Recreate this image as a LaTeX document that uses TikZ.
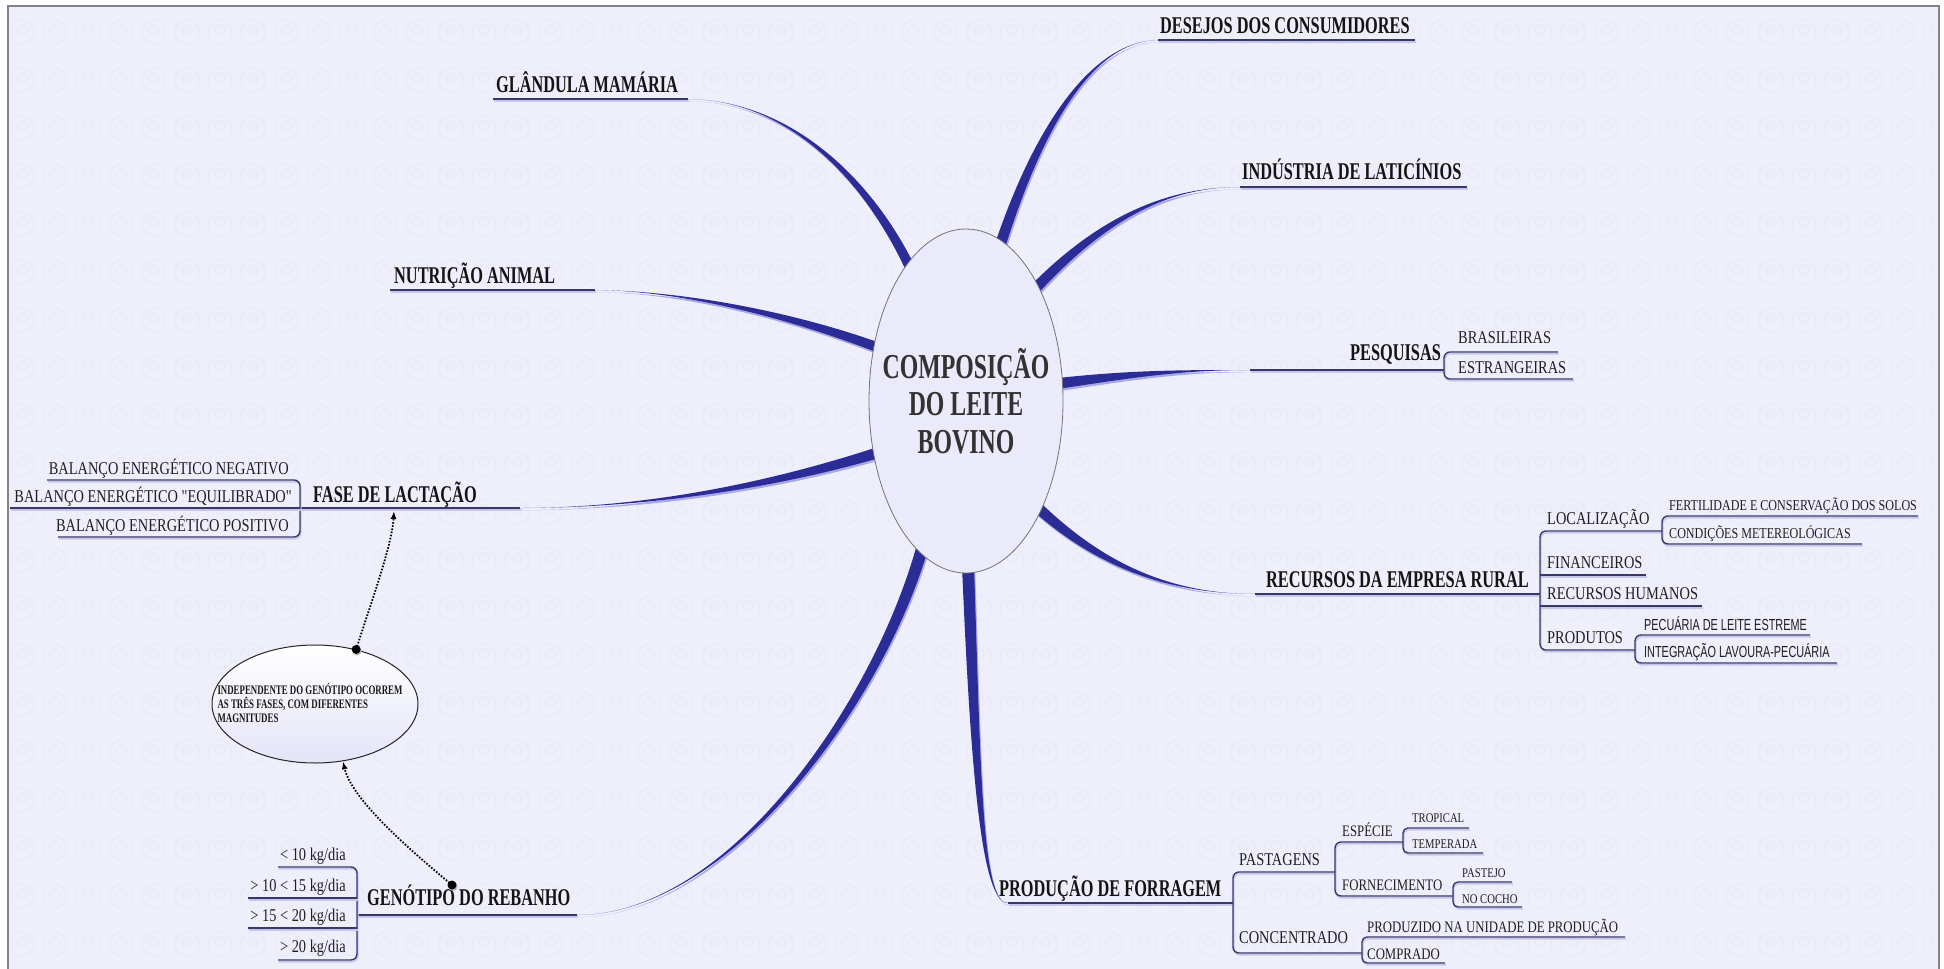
\documentclass[tikz,border=0pt]{standalone}
\usepackage{fontspec}
\setmainfont{Liberation Serif}
\newfontfamily\lblfont{Liberation Serif}[FakeStretch=0.68]
\newfontfamily\subfont{Liberation Serif}[FakeStretch=0.8]
\newfontfamily\nsans{Liberation Sans}[FakeStretch=0.68]
\usetikzlibrary{calc,shapes.geometric,arrows.meta}
\definecolor{bgc}{RGB}{239,239,252}
\definecolor{patc}{RGB}{232,232,248}
\definecolor{brc}{RGB}{44,44,150}
\definecolor{brsh}{RGB}{168,168,230}
\definecolor{ulc}{RGB}{55,55,105}
\definecolor{ulsh}{RGB}{198,198,234}
\definecolor{framec}{RGB}{130,130,140}
\definecolor{ctxt}{RGB}{50,50,50}
\definecolor{cfill}{RGB}{234,234,250}
\definecolor{notefill}{RGB}{228,228,248}
\tikzset{
  lab/.style={inner sep=0pt, font=\lblfont\bfseries\fontsize{24}{26}\selectfont, text=black!92},
  subA/.style={inner sep=0pt, font=\subfont\fontsize{18}{20}\selectfont, text=black!88},
  subB/.style={inner sep=0pt, font=\subfont\fontsize{16}{18}\selectfont, text=black!88},
  subBs/.style={inner sep=0pt, font=\subfont\fontsize{15.1}{17}\selectfont, text=black!88},
  subC/.style={inner sep=0pt, font=\subfont\fontsize{13.3}{15}\selectfont, text=black!88},
  sansC/.style={inner sep=0pt, font=\nsans\fontsize{16}{18}\selectfont, text=black!88},
  uline/.style={draw=ulc, line width=1.4pt},
  ushadow/.style={draw=ulsh, line width=1.4pt},
  pat/.style={draw=patc, line width=1pt},
  dotline/.style={draw=black, line width=1.8pt, dash pattern=on 1.6pt off 1.6pt},
  tipc/.style={-{Latex[length=8pt,width=6pt]}}
}
\newcommand\branch[6]{%
  \begin{scope}[transform canvas={shift={(1.2,2.2)}}]
    \fill[brsh] ($(#1)!#5!90:(#2)$) .. controls ($(#2)!#6!-90:(#1)$) and (#3) .. (#4)
      .. controls (#3) and ($(#2)!#6!90:(#1)$) .. ($(#1)!#5!-90:(#2)$) -- cycle;
  \end{scope}
  \fill[brc] ($(#1)!#5!90:(#2)$) .. controls ($(#2)!#6!-90:(#1)$) and (#3) .. (#4)
      .. controls (#3) and ($(#2)!#6!90:(#1)$) .. ($(#1)!#5!-90:(#2)$) -- cycle;
}
\newcommand\ul[1]{%
  \begin{scope}[transform canvas={shift={(0.8,1.8)}}]\path[ushadow] #1;\end{scope}
  \path[uline] #1;}
\begin{document}
\begin{tikzpicture}[x=1pt,y=-1pt]
\useasboundingbox (0,0) rectangle (1944,969);
\fill[white] (0,0) rectangle (1944,969);
\fill[bgc] (8,6) rectangle (1939,985);
\begin{scope}
  \clip (8,6) rectangle (1939,985);
  \foreach \j in {0,...,19}{
    \foreach \i in {0,...,58}{
      \path[pat] ({22+33*\i},{32+48*\j}) circle[radius=12] ({22+33*\i},{30+48*\j}) circle[radius=5];
    }
  }
\end{scope}
\draw[framec, line width=1.5pt] (8,985) -- (8,6) -- (1939,6) -- (1939,985);

% ---------- coordinates of branches ----------
\coordinate (dA) at (998,252);  \coordinate (d1) at (1040,120); \coordinate (d2) at (1095,41);  \coordinate (dB) at (1158,40);  \coordinate (dE) at (1415,40);
\coordinate (iA) at (1031,293); \coordinate (i1) at (1095,225); \coordinate (i2) at (1160,187); \coordinate (iB) at (1240,187); \coordinate (iE) at (1467,187);
\coordinate (pA) at (1054,384); \coordinate (p1) at (1130,374); \coordinate (p2) at (1180,370); \coordinate (pB) at (1250,370);
\coordinate (rA) at (1036,506); \coordinate (r1) at (1092,558); \coordinate (r2) at (1160,594); \coordinate (rB) at (1255,594);
\coordinate (fA) at (968,566);  \coordinate (f1) at (976,780);  \coordinate (f2) at (982,903);  \coordinate (fB) at (1008,903);
\coordinate (gA) at (923,545);  \coordinate (g1) at (880,700);  \coordinate (g2) at (730,915);  \coordinate (gB) at (577,915);
\coordinate (faA) at (880,452); \coordinate (fa1) at (790,480); \coordinate (fa2) at (660,508); \coordinate (faB) at (520,508);
\coordinate (nA) at (882,349);  \coordinate (n1) at (800,318);  \coordinate (n2) at (690,291);  \coordinate (nB) at (595,290);  \coordinate (nE) at (390,290);
\coordinate (glA) at (913,274); \coordinate (gl1) at (870,180); \coordinate (gl2) at (790,100); \coordinate (glB) at (688,99); \coordinate (glE) at (493,99);

\branch{dA}{d1}{d2}{dB}{5.5pt}{4pt}
\branch{iA}{i1}{i2}{iB}{5.5pt}{4pt}
\branch{pA}{p1}{p2}{pB}{5.5pt}{4pt}
\branch{rA}{r1}{r2}{rB}{5.5pt}{4pt}
\branch{fA}{f1}{f2}{fB}{6pt}{5pt}
\branch{gA}{g1}{g2}{gB}{6pt}{5pt}
\branch{faA}{fa1}{fa2}{faB}{5.5pt}{4pt}
\branch{nA}{n1}{n2}{nB}{5pt}{4pt}
\branch{glA}{gl1}{gl2}{glB}{5pt}{4pt}

% ---------- central ellipse ----------
\node[ellipse, draw=black!55, line width=0.8pt, fill=cfill, minimum width=194pt, minimum height=344pt,
      inner sep=0pt] (center) at (966,401) {};
\node[inner sep=0pt, align=center, text=ctxt, font=\lblfont\bfseries\fontsize{35}{37.5}\selectfont]
      (centertxt) at (center) {COMPOSIÇÃO\\DO LEITE\\BOVINO};

% ---------- first level underlines ----------
\ul{(dB) -- (dE)}
\ul{(iB) -- (iE)}
\ul{(nB) -- (nE)}
\ul{(glB) -- (glE)}

% ---------- PESQUISAS ----------
\coordinate (pJ) at (1444,370);
\coordinate (pT) at (1444,352); \coordinate (pTe) at (1558,352);
\coordinate (pBo) at (1444,379); \coordinate (pBe) at (1573,379);
\ul{(pB) -- (pJ)}
\ul{[rounded corners=6pt] (pTe) -- (pT) -- (pBo) -- (pBe)}

% ---------- RECURSOS ----------
\coordinate (rJ) at (1540,594); \coordinate (rT) at (1540,531); \coordinate (rBo) at (1540,650);
\coordinate (locE) at (1662,531); \coordinate (proE) at (1635,650);
\coordinate (r2T) at (1662,516); \coordinate (r2Te) at (1918,516); \coordinate (r2B) at (1662,544); \coordinate (r2Be) at (1862,544);
\coordinate (finS) at (1540,575); \coordinate (finE) at (1646,575);
\coordinate (rhS) at (1540,606); \coordinate (rhE) at (1702,606);
\coordinate (r3T) at (1635,635); \coordinate (r3Te) at (1810,635); \coordinate (r3B) at (1635,663); \coordinate (r3Be) at (1837,663);
\ul{(rB) -- (rJ)}
\ul{[rounded corners=6pt] (locE) -- (rT) -- (rBo) -- (proE)}
\ul{[rounded corners=6pt] (r2Te) -- (r2T) -- (r2B) -- (r2Be)}
\ul{(finS) -- (finE)}
\ul{(rhS) -- (rhE)}
\ul{[rounded corners=6pt] (r3Te) -- (r3T) -- (r3B) -- (r3Be)}

% ---------- FORRAGEM ----------
\coordinate (fJ) at (1233,903); \coordinate (fT) at (1233,872); \coordinate (fBo) at (1233,953);
\coordinate (pasE) at (1335,872); \coordinate (conE) at (1362,953);
\coordinate (f2T) at (1335,842); \coordinate (espE) at (1403,842); \coordinate (f2B) at (1335,896); \coordinate (forE) at (1453,896);
\coordinate (f3T) at (1403,828); \coordinate (f3Te) at (1469,828); \coordinate (f3B) at (1403,853); \coordinate (f3Be) at (1483,853);
\coordinate (f4T) at (1453,882); \coordinate (f4Te) at (1512,882); \coordinate (f4B) at (1453,907); \coordinate (f4Be) at (1522,907);
\coordinate (f5T) at (1362,937); \coordinate (f5Te) at (1625,937); \coordinate (f5B) at (1362,963); \coordinate (f5Be) at (1445,963);
\ul{(fB) -- (fJ)}
\ul{[rounded corners=6pt] (pasE) -- (fT) -- (fBo) -- (conE)}
\ul{[rounded corners=6pt] (espE) -- (f2T) -- (f2B) -- (forE)}
\ul{[rounded corners=5pt] (f3Te) -- (f3T) -- (f3B) -- (f3Be)}
\ul{[rounded corners=5pt] (f4Te) -- (f4T) -- (f4B) -- (f4Be)}
\ul{[rounded corners=5pt] (f5Te) -- (f5T) -- (f5B) -- (f5Be)}

% ---------- GENOTIPO ----------
\coordinate (gJ) at (357,915);
\coordinate (gT) at (357,867); \coordinate (gTe) at (278,867);
\coordinate (gBo) at (357,960); \coordinate (gBe) at (278,960);
\coordinate (g2S) at (357,898); \coordinate (g2E) at (248,898);
\coordinate (g3S) at (357,928); \coordinate (g3E) at (248,928);
\ul{(gB) -- (gJ)}
\ul{[rounded corners=6pt] (gTe) -- (gT) -- (gBo) -- (gBe)}
\ul{(g2S) -- (g2E)}
\ul{(g3S) -- (g3E)}

% ---------- FASE ----------
\coordinate (faJ) at (300,508);
\coordinate (faT) at (300,480); \coordinate (faTe) at (47,480);
\coordinate (faBo) at (300,537); \coordinate (faBe) at (58,537);
\coordinate (eqE) at (10,508);
\ul{(faB) -- (faJ)}
\ul{[rounded corners=6pt] (faTe) -- (faT) -- (faBo) -- (faBe)}
\ul{(faJ) -- (eqE)}

% ---------- texts ----------
\node[lab, anchor=base west] (desejos) at (1160,33) {DESEJOS DOS CONSUMIDORES};
\node[lab, anchor=base west] (industria) at (1242,179) {INDÚSTRIA DE LATICÍNIOS};
\node[lab, anchor=base west] (glandula) at (496,92) {GLÂNDULA MAMÁRIA};
\node[lab, anchor=base west] (nutricao) at (394,283) {NUTRIÇÃO ANIMAL};
\node[lab, anchor=base west] (pesquisas) at (1350,360) {PESQUISAS};
\node[lab, anchor=base west] (fase) at (313,502) {FASE DE LACTAÇÃO};
\node[lab, anchor=base west] (recursos) at (1266,587) {RECURSOS DA EMPRESA RURAL};
\node[lab, anchor=base west] (forragem) at (999,896) {PRODUÇÃO DE FORRAGEM};
\node[lab, anchor=base west] (genotipo) at (367,905) {GENÓTIPO DO REBANHO};

\node[subA, anchor=base west] (bras) at (1458,343) {BRASILEIRAS};
\node[subA, anchor=base west] (estr) at (1458,373) {ESTRANGEIRAS};

\node[subA, anchor=base east] (neg) at (289,474) {BALANÇO ENERGÉTICO NEGATIVO};
\node[subA, anchor=base east] (equ) at (292,502) {BALANÇO ENERGÉTICO "EQUILIBRADO"};
\node[subA, anchor=base east] (pos) at (289,531) {BALANÇO ENERGÉTICO POSITIVO};

\node[subA, anchor=base west] (loc) at (1547,524) {LOCALIZAÇÃO};
\node[subBs, anchor=base west] (fert) at (1669,510) {FERTILIDADE E CONSERVAÇÃO DOS SOLOS};
\node[subBs, anchor=base west] (cond) at (1669,538) {CONDIÇÕES METEREOLÓGICAS};
\node[subA, anchor=base west] (fin) at (1547,568) {FINANCEIROS};
\node[subA, anchor=base west] (rh) at (1547,599) {RECURSOS HUMANOS};
\node[subA, anchor=base west] (prod) at (1547,643) {PRODUTOS};
\node[sansC, anchor=base west] (pecu) at (1644,630) {PECUÁRIA DE LEITE ESTREME};
\node[sansC, anchor=base west] (integ) at (1644,657) {INTEGRAÇÃO LAVOURA-PECUÁRIA};

\node[subA, anchor=base west] (past) at (1239,865) {PASTAGENS};
\node[subB, anchor=base west] (esp) at (1342,836) {ESPÉCIE};
\node[subC, anchor=base west] (trop) at (1412,822) {TROPICAL};
\node[subC, anchor=base west] (temp) at (1412,848) {TEMPERADA};
\node[subB, anchor=base west] (forn) at (1342,890) {FORNECIMENTO};
\node[subC, anchor=base west] (pastejo) at (1462,877) {PASTEJO};
\node[subC, anchor=base west] (cocho) at (1462,903) {NO COCHO};
\node[subA, anchor=base west] (conc) at (1239,943) {CONCENTRADO};
\node[subB, anchor=base west] (produz) at (1367,932) {PRODUZIDO NA UNIDADE DE PRODUÇÃO};
\node[subB, anchor=base west] (compr) at (1367,959) {COMPRADO};

\node[subA, anchor=base east] (k1) at (346,860) {< 10 kg/dia};
\node[subA, anchor=base east] (k2) at (346,891) {> 10 < 15 kg/dia};
\node[subA, anchor=base east] (k3) at (346,921) {> 15 < 20 kg/dia};
\node[subA, anchor=base east] (k4) at (346,952) {> 20 kg/dia};

% ---------- note ellipse ----------
\node[ellipse, draw=black!85, line width=1pt, top color=white, bottom color=notefill,
      minimum width=206pt, minimum height=118pt, inner sep=0pt] (note) at (315,704) {};
\node[inner sep=0pt, align=left, font=\lblfont\bfseries\fontsize{13}{14}\selectfont, text=black!90]
      (notetxt) at (310,703) {INDEPENDENTE DO GENÓTIPO OCORREM\\AS TRÊS FASES, COM DIFERENTES\\MAGNITUDES};

% ---------- dotted connectors ----------
\coordinate (dot1) at (452,885);
\coordinate (arrFase) at (394,511);
\draw[dotline, tipc] (dot1) .. controls (410,850) and (352,800) .. (note.-64);
\draw[dotline, tipc] (note.53) .. controls (372,600) and (392,545) .. (arrFase);
\fill[black!30] ([shift={(1,1.5)}]dot1) circle[radius=4.5];
\fill[black] (dot1) circle[radius=4.5];
\fill[black!30] ([shift={(1,1.5)}]note.53) circle[radius=4.5];
\fill[black] (note.53) circle[radius=4.5];
\end{tikzpicture}
\end{document}
